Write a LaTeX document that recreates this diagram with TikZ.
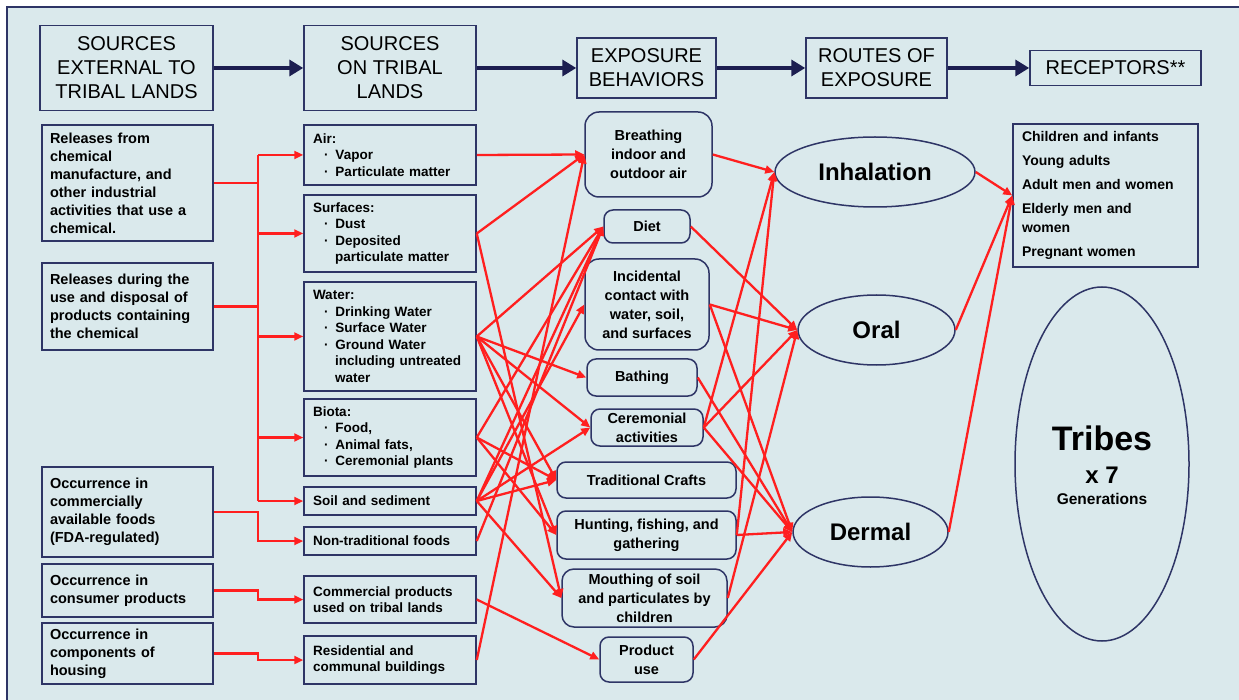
\documentclass[tikz,border=0pt]{standalone}
\usepackage{fontspec}
\setmainfont{Liberation Sans}
\usetikzlibrary{shapes.geometric,arrows.meta}
\definecolor{bgcol}{HTML}{DAE9EC}
\definecolor{navy}{HTML}{2E3566}
\definecolor{navyd}{HTML}{1C1E50}
\definecolor{linkred}{HTML}{FF1F1F}
\newcommand{\srcbul}{\hspace*{11pt}·\hspace{7pt}}
\newcommand{\srcind}{\hspace*{22pt}}

\begin{document}
\begin{tikzpicture}[x=1pt,y=-1pt,
    hdr/.style={draw=navy,line width=1.5pt,align=center,inner sep=0pt,font=\fontsize{20}{24}\selectfont},
    extbox/.style={draw=navy,line width=1.5pt,align=left,text width=155pt,inner xsep=8pt,inner ysep=0pt,font=\bfseries\fontsize{14.5}{18}\selectfont},
    tribbox/.style={draw=navy,line width=1.5pt,align=left,text width=154pt,inner xsep=9pt,inner ysep=0pt,font=\bfseries\fontsize{13.5}{16.5}\selectfont},
    behav/.style={draw=navy,line width=1.5pt,rounded corners=9pt,align=center,inner sep=0pt,font=\bfseries\fontsize{14.5}{19}\selectfont},
    route/.style={ellipse,draw=navy,line width=1.5pt,inner sep=0pt,font=\bfseries\fontsize{24}{28}\selectfont},
    flow/.style={draw=navyd,line width=4.5pt,-{Triangle[length=14pt,width=16pt]}},
    link/.style={draw=linkred,line width=2.3pt,-{Triangle[length=9pt,width=8pt]}},
    bus/.style={draw=linkred,line width=2.3pt}]
    \useasboundingbox (0,0) rectangle (1239,700);
    \fill[white] (0,0) rectangle (1239,700);
    \fill[bgcol] (7,7) rectangle (1239,700);
    \draw[navy,line width=1.5pt] (1239,7) -- (7,7) -- (7,700);

    % column headers
    \node[hdr,minimum width=173pt,minimum height=85pt] (hdrext) at (126.5,68) {SOURCES\\EXTERNAL TO\\TRIBAL LANDS};
    \node[hdr,minimum width=172pt,minimum height=85pt] (hdrtrib) at (390,68) {SOURCES\\ON TRIBAL\\LANDS};
    \node[hdr,minimum width=139pt,minimum height=60pt] (hdrbehav) at (646.5,68) {EXPOSURE\\BEHAVIORS};
    \node[hdr,minimum width=141pt,minimum height=60pt] (hdrroute) at (876.5,68) {ROUTES OF\\EXPOSURE};
    \node[hdr,minimum width=171pt,minimum height=35pt] (hdrrecep) at (1115.5,68) {RECEPTORS**};
    \draw[flow] (hdrext.east) -- (hdrtrib.west);
    \draw[flow] (hdrtrib.east) -- (hdrbehav.west);
    \draw[flow] (hdrbehav.east) -- (hdrroute.west);
    \draw[flow] (hdrroute.east) -- (hdrrecep.west);

    % sources external to tribal lands
    \node[extbox,minimum height=116pt] (extmanuf) at (127.5,183) {Releases from\\chemical\\manufacture, and\\other industrial\\activities that use a\\chemical.};
    \node[extbox,minimum height=87pt] (extuse) at (127.5,306.5) {Releases during the\\use and disposal of\\products containing\\the chemical};
    \node[extbox,minimum height=90pt] (extfood) at (127.5,512) {Occurrence in\\commercially\\available foods\\(FDA-regulated)};
    \node[extbox,minimum height=53pt] (extcons) at (127.5,590.5) {Occurrence in\\consumer products};
    \node[extbox,minimum height=61pt] (exthouse) at (127.5,653.5) {Occurrence in\\components of\\housing};

    % sources on tribal lands
    \node[tribbox,minimum height=60pt] (air) at (390,155) {Air:\\\srcbul Vapor\\\srcbul Particulate matter};
    \node[tribbox,minimum height=77pt] (surf) at (390,233.5) {Surfaces:\\\srcbul Dust\\\srcbul Deposited\\\srcind particulate matter};
    \node[tribbox,minimum height=109pt] (water) at (390,336.5) {Water:\\\srcbul Drinking Water\\\srcbul Surface Water\\\srcbul Ground Water\\\srcind including untreated\\\srcind water};
    \node[tribbox,minimum height=77pt] (biota) at (390,437.5) {Biota:\\\srcbul Food,\\\srcbul Animal fats,\\\srcbul Ceremonial plants};
    \node[tribbox,minimum height=28pt] (soil) at (390,501) {Soil and sediment};
    \node[tribbox,minimum height=28pt] (nontrad) at (390,541) {Non-traditional foods};
    \node[tribbox,minimum height=47pt] (comm) at (390,599.5) {Commercial products\\used on tribal lands};
    \node[tribbox,minimum height=48pt] (resid) at (390,660) {Residential and\\communal buildings};

    \coordinate (busx) at (258,0);
    \draw[bus] (extmanuf.east) -- (extmanuf.east -| busx);
    \draw[bus] (extuse.east) -- (extuse.east -| busx);
    \draw[bus] (air.west -| busx) -- (soil.west -| busx);
    \draw[link] (air.west -| busx) -- (air.west);
    \draw[link] (surf.west -| busx) -- (surf.west);
    \draw[link] (water.west -| busx) -- (water.west);
    \draw[link] (biota.west -| busx) -- (biota.west);
    \draw[link] (soil.west -| busx) -- (soil.west);
    \draw[link] (extfood.east) -- (extfood.east -| busx) |- (nontrad.west);
    \draw[link] (extcons.east) -- (extcons.east -| busx) |- (comm.west);
    \draw[link] (exthouse.east) -- (exthouse.east -| busx) |- (resid.west);

    % exposure behaviors
    \node[behav,rounded corners=14pt,minimum width=127pt,minimum height=85pt] (breath) at (648.5,154.5) {Breathing\\indoor and\\outdoor air};
    \node[behav,minimum width=86pt,minimum height=33pt] (diet) at (647,226.5) {Diet};
    \node[behav,rounded corners=14pt,minimum width=124pt,minimum height=91pt] (incid) at (647,304.5) {Incidental\\contact with\\water, soil,\\and surfaces};
    \node[behav,minimum width=110pt,minimum height=37pt] (bath) at (642,377.5) {Bathing};
    \node[behav,minimum width=112pt,minimum height=37pt] (cerem) at (647,427.5) {Ceremonial\\activities};
    \node[behav,minimum width=179pt,minimum height=36pt] (crafts) at (646.5,480) {Traditional Crafts};
    \node[behav,minimum width=179pt,minimum height=48pt] (hunt) at (646.5,535) {Hunting, fishing, and\\gathering};
    \node[behav,rounded corners=12pt,minimum width=165pt,minimum height=58pt] (mouth) at (644.5,598) {Mouthing of soil\\and particulates by\\children};
    \node[behav,minimum width=93pt,minimum height=45pt] (product) at (646.5,659.5) {Product\\use};

    \draw[link] (air.east) -- (breath.west);
    \draw[link] (surf.east) -- (breath.west);
    \draw[link] (surf.east) -- (mouth.west);
    \draw[link] (water.east) -- (diet.west);
    \draw[link] (water.east) -- (bath.west);
    \draw[link] (water.east) -- (cerem.west);
    \draw[link] (water.east) -- (crafts.west);
    \draw[link] (water.east) -- (hunt.west);
    \draw[link] (biota.east) -- (diet.west);
    \draw[link] (biota.east) -- (crafts.west);
    \draw[link] (biota.east) -- (hunt.west);
    \draw[link] (soil.east) -- (diet.west);
    \draw[link] (soil.east) -- (incid.west);
    \draw[link] (soil.east) -- (cerem.west);
    \draw[link] (soil.east) -- (crafts.west);
    \draw[link] (soil.east) -- (mouth.west);
    \draw[link] (nontrad.east) -- (diet.west);
    \draw[link] (comm.east) -- (product.west);
    \draw[link] (resid.east) -- (breath.west);

    % routes of exposure
    \node[route,minimum width=200pt,minimum height=70pt] (inhal) at (875,172) {Inhalation};
    \node[route,minimum width=157pt,minimum height=70pt] (oral) at (876.5,330) {Oral};
    \node[route,minimum width=155pt,minimum height=70pt] (dermal) at (870.5,532) {Dermal};

    \draw[link] (breath.east) -- (inhal.west);
    \draw[link] (diet.east) -- (oral.west);
    \draw[link] (incid.east) -- (oral.west);
    \draw[link] (incid.east) -- (dermal.west);
    \draw[link] (bath.east) -- (dermal.west);
    \draw[link] (cerem.east) -- (inhal.west);
    \draw[link] (cerem.east) -- (oral.west);
    \draw[link] (cerem.east) -- (dermal.west);
    \draw[link] (hunt.east) -- (inhal.west);
    \draw[link] (hunt.east) -- (dermal.west);
    \draw[link] (mouth.east) -- (oral.west);
    \draw[link] (product.east) -- (dermal.west);

    % receptors
    \node[draw=navy,line width=1.5pt,align=left,text width=167pt,inner xsep=9pt,inner ysep=0pt,minimum height=143pt,font=\bfseries\fontsize{14}{19}\selectfont] (recep) at (1105.5,195.5) {Children and infants\\[5pt]Young adults\\[5pt]Adult men and women\\[5pt]Elderly men and\\women\\[5pt]Pregnant women};
    \node[ellipse,draw=navy,line width=1.5pt,minimum width=174pt,minimum height=354pt] (tribes) at (1102,464) {};
    \node[font=\bfseries\fontsize{34}{36}\selectfont] (tribesname) at (1102,438) {Tribes};
    \node[font=\bfseries\fontsize{24}{26}\selectfont] (tribesmult) at (1102,475) {x 7};
    \node[font=\bfseries\fontsize{15.5}{18}\selectfont] (tribesgen) at (1102,499) {Generations};

    \draw[link] (inhal.east) -- (recep.west);
    \draw[link] (oral.east) -- (recep.west);
    \draw[link] (dermal.east) -- (recep.west);
\end{tikzpicture}
\end{document}
